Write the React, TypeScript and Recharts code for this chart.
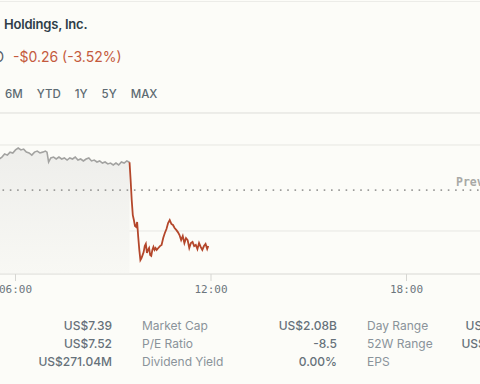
import React from 'react';
import {
  ComposedChart,
  Area,
  Line,
  XAxis,
  YAxis,
  CartesianGrid,
  ReferenceLine,
} from 'recharts';

// ---- data ----
const PRE_TIMES = [
  330, 335, 340, 345, 350, 355, 360, 365, 370, 375, 380, 385, 390, 395, 400, 405, 410, 415, 418,
  421, 425, 430, 435, 440, 445, 450, 455, 460, 465, 470, 475, 480, 485, 490, 495, 500, 505, 510,
  515, 520, 525, 530, 535, 540, 545, 550, 555, 560, 565, 570,
];
const PRE_VALUES = [
  7.535, 7.544, 7.558, 7.553, 7.567, 7.563, 7.577, 7.586, 7.577, 7.581, 7.567, 7.563, 7.553, 7.567,
  7.572, 7.563, 7.567, 7.572, 7.567, 7.521, 7.54, 7.544, 7.535, 7.544, 7.535, 7.54, 7.53, 7.54,
  7.535, 7.544, 7.53, 7.535, 7.526, 7.535, 7.54, 7.526, 7.53, 7.521, 7.526, 7.516, 7.521, 7.512,
  7.516, 7.507, 7.516, 7.507, 7.521, 7.516, 7.526, 7.52,
];
const REG_TIMES = [
  570, 572, 574, 576, 578, 580, 582, 584, 586, 588, 590, 592, 594, 596, 598, 600, 602, 604, 606,
  608, 610, 612, 614, 616, 618, 620, 623, 626, 629, 632, 635, 638, 641, 644, 647, 650, 653, 656,
  659, 662, 665, 668, 671, 674, 677, 680, 683, 686, 689, 692, 695, 698, 701, 704, 707, 710, 713,
  715,
];
const REG_VALUES = [
  7.52, 7.437, 7.344, 7.274, 7.251, 7.223, 7.219, 7.242, 7.172, 7.112, 7.065, 7.074, 7.088, 7.102,
  7.13, 7.14, 7.098, 7.112, 7.121, 7.088, 7.084, 7.112, 7.126, 7.112, 7.121, 7.112, 7.121, 7.13,
  7.135, 7.167, 7.191, 7.209, 7.237, 7.251, 7.233, 7.228, 7.214, 7.205, 7.195, 7.181, 7.158,
  7.177, 7.144, 7.167, 7.158, 7.121, 7.144, 7.149, 7.13, 7.135, 7.116, 7.144, 7.126, 7.112, 7.13,
  7.14, 7.116, 7.13,
];
const PREVIOUS_CLOSE = 7.39;
const X_TICKS = [0, 360, 720, 1080, 1440];
const Y_TICKS = [7.2, 7.6];
const Y_DOMAIN = [7.0, 7.749];

const TITLE = 'Holdings, Inc.';
const PRICE_TEXT = '7.13 USD';
const CHANGE_TEXT = '-$0.26 (-3.52%)';
const RANGES = ['6M', 'YTD', '1Y', '5Y', 'MAX'];

const STAT_VALUES_1 = ['US$7.39', 'US$7.52', 'US$271.04M'];
const STAT_LABELS_2 = ['Market Cap', 'P/E Ratio', 'Dividend Yield'];
const STAT_VALUES_2 = ['US$2.08B', '-8.5', '0.00%'];
const STAT_LABELS_3 = ['Day Range', '52W Range', 'EPS'];
const STAT_VALUES_3 = ['US$7.06 - US$7.53', 'US$4.39 - US$8.80', '-US$0.87'];

// build table
const tMap = new Map<number, { t: number; pre?: number; reg?: number }>();
PRE_TIMES.forEach((t, i) => {
  tMap.set(t, { ...(tMap.get(t) || { t }), pre: PRE_VALUES[i] });
});
REG_TIMES.forEach((t, i) => {
  tMap.set(t, { ...(tMap.get(t) || { t }), reg: REG_VALUES[i] });
});
const DATA = Array.from(tMap.values()).sort((a, b) => a.t - b.t);

const fmtTime = (m: number) => {
  const h = Math.floor(m / 60) % 24;
  const mm = m % 60;
  return `${String(h).padStart(2, '0')}:${String(mm).padStart(2, '0')}`;
};

const SANS = 'Inter, "Noto Sans", sans-serif';
const MONO = '"DejaVu Sans Mono", "Liberation Mono", monospace';

const PrevLabel = (props: any) => {
  const vb = props.viewBox || {};
  return (
    <text
      x={(vb.x || 0) + 636}
      y={(vb.y || 0) - 4}
      fill="#a9a9a6"
      fontFamily={MONO}
      fontWeight={700}
      fontSize={11.5}
    >
      Previous Close
    </text>
  );
};

const rowTops = [317, 335, 353];

export default function App() {
  return (
    <div
      style={{
        position: 'fixed',
        left: 0,
        top: 0,
        width: 480,
        height: 384,
        overflow: 'hidden',
        background: '#fcfcf8',
        fontFamily: SANS,
      }}
    >
      <div style={{ position: 'absolute', left: 0, top: 1, width: 480, height: 1, background: '#ecece8' }} />
      <div
        style={{
          position: 'absolute',
          left: 4,
          top: 15,
          fontSize: 13,
          fontWeight: 600,
          letterSpacing: -0.2,
          color: '#2f3e48',
          whiteSpace: 'nowrap',
          lineHeight: '18px',
        }}
      >
        {TITLE}
      </div>
      <div
        style={{
          position: 'absolute',
          right: 476,
          top: 48,
          fontSize: 14,
          color: '#55606a',
          whiteSpace: 'nowrap',
          lineHeight: '18px',
        }}
      >
        {PRICE_TEXT}
      </div>
      <div
        style={{
          position: 'absolute',
          left: 13,
          top: 48,
          fontSize: 14,
          color: '#c45a3d',
          whiteSpace: 'nowrap',
          lineHeight: '18px',
        }}
      >
        {CHANGE_TEXT}
      </div>
      <div
        style={{
          position: 'absolute',
          left: 5,
          top: 86,
          display: 'flex',
          gap: 14,
          fontSize: 11.5,
          fontWeight: 500,
          color: '#5d6a72',
          lineHeight: '16px',
        }}
      >
        {RANGES.map((r) => (
          <span key={r}>{r}</span>
        ))}
      </div>

      <div style={{ position: 'absolute', left: -180, top: 0 }}>
        <ComposedChart
          width={782}
          height={310}
          data={DATA}
          margin={{ top: 113, right: 0, bottom: 0, left: 0 }}
        >
          <defs>
            <linearGradient id="preFill" x1="0" y1="0" x2="0" y2="1">
              <stop offset="0%" stopColor="#eeeeeb" stopOpacity={1} />
              <stop offset="100%" stopColor="#f8f8f4" stopOpacity={1} />
            </linearGradient>
          </defs>
          <CartesianGrid vertical={false} stroke="#e7e7e3" />
          <XAxis
            type="number"
            dataKey="t"
            domain={[0, 1440]}
            ticks={X_TICKS}
            interval={0}
            tickFormatter={fmtTime}
            height={36}
            axisLine={{ stroke: '#e2e2de' }}
            tickLine={{ stroke: '#d6d6d2' }}
            tickSize={7}
            tickMargin={4}
            tick={{ fill: '#6c767d', fontSize: 11, fontFamily: MONO }}
          />
          <YAxis hide domain={Y_DOMAIN} ticks={Y_TICKS} allowDataOverflow />
          <ReferenceLine y={Y_DOMAIN[1]} stroke="#e7e7e3" />
          <ReferenceLine
            y={PREVIOUS_CLOSE}
            stroke="#9c9c9a"
            strokeWidth={1.6}
            strokeDasharray="1.6 5.7"
            label={PrevLabel}
          />
          <Area
            type="linear"
            dataKey="pre"
            stroke="#a3a3a1"
            strokeWidth={1.6}
            fill="url(#preFill)"
            fillOpacity={1}
            isAnimationActive={false}
            dot={false}
            activeDot={false}
          />
          <Line
            type="linear"
            dataKey="reg"
            stroke="#b4472b"
            strokeWidth={1.8}
            dot={false}
            activeDot={false}
            isAnimationActive={false}
          />
        </ComposedChart>
      </div>

      {[0, 1, 2].map((i) => (
        <React.Fragment key={i}>
          <div style={{ position: 'absolute', right: 480 - 112, top: rowTops[i], fontSize: 12, color: '#66717a', fontWeight: 500, whiteSpace: 'nowrap', lineHeight: '18px' }}>
            {STAT_VALUES_1[i]}
          </div>
          <div style={{ position: 'absolute', left: 142, top: rowTops[i], fontSize: 12, color: '#8a939a', whiteSpace: 'nowrap', lineHeight: '18px' }}>
            {STAT_LABELS_2[i]}
          </div>
          <div style={{ position: 'absolute', right: 480 - 337, top: rowTops[i], fontSize: 12, color: '#66717a', fontWeight: 500, whiteSpace: 'nowrap', lineHeight: '18px' }}>
            {STAT_VALUES_2[i]}
          </div>
          <div style={{ position: 'absolute', left: 367, top: rowTops[i], fontSize: 12, color: '#8a939a', whiteSpace: 'nowrap', lineHeight: '18px' }}>
            {STAT_LABELS_3[i]}
          </div>
          <div style={{ position: 'absolute', right: 480 - 574, top: rowTops[i], fontSize: 12, color: '#66717a', fontWeight: 500, whiteSpace: 'nowrap', lineHeight: '18px' }}>
            {STAT_VALUES_3[i]}
          </div>
        </React.Fragment>
      ))}
    </div>
  );
}
